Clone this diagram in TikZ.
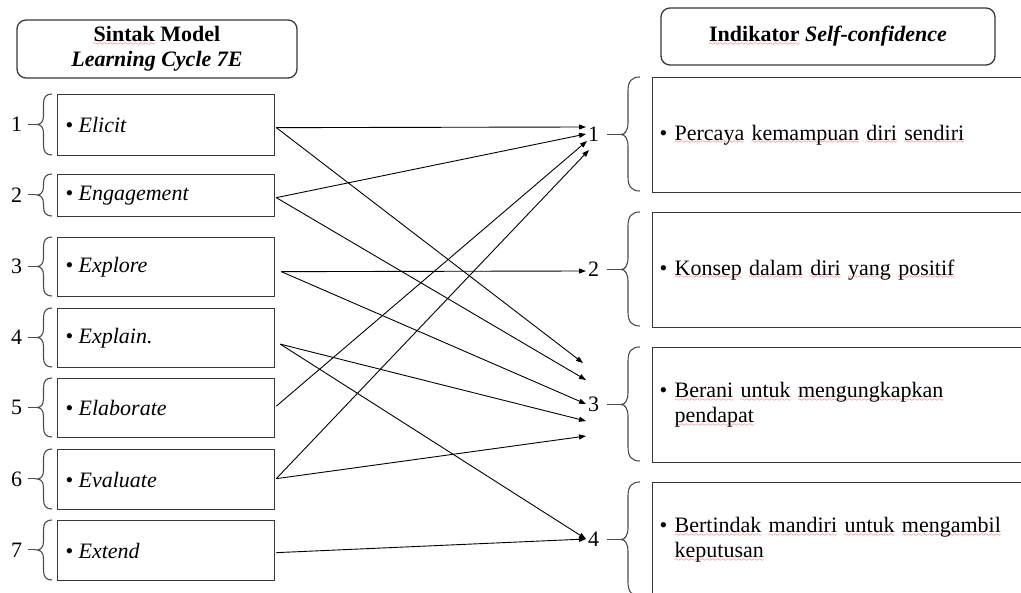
\documentclass[tikz,border=0pt]{standalone}
\usepackage{fontspec}
\setmainfont{Liberation Serif}
\usetikzlibrary{arrows.meta,calc}

% red wavy underline used under the Indonesian words
\font\wavyfont=lasy6
\newcommand\sq[1]{\setbox0\hbox{#1}%
  \rlap{\color{red}\lower3.5pt\hbox to\wd0{\xleaders\hbox{\wavyfont\char58}\hfil}}\box0\relax}
% bullet items
\newcommand\litem[1]{\makebox[13pt][l]{\textbullet}\textit{#1}}
\newcommand\ritem[1]{\makebox[15pt][l]{\textbullet}\begin{tabular}[t]{@{}l@{}}#1\end{tabular}}

\begin{document}
\begin{tikzpicture}[x=1pt,y=-1pt,
  every node/.style={font=\fontsize{22}{25}\selectfont},
  frame/.style={draw=black!78, line width=1.3pt},
  titlebox/.style={frame, rounded corners=9pt, align=center, inner sep=0pt},
  lbox/.style={frame, anchor=north west, minimum width=217pt, text width=201pt,
    inner xsep=8pt, inner ysep=0pt, align=left},
  rbox/.style={frame, anchor=north west, minimum width=400pt, text width=386pt,
    inner xsep=7pt, inner ysep=0pt, align=left, minimum height=115pt},
  num/.style={inner sep=0pt},
  brace/.style={draw=black!70, line width=1.1pt},
  tick/.style={draw=black!70, line width=1pt},
  link/.style={draw=black, line width=0.9pt, -{Triangle[length=7pt,width=5pt]}}
]
\useasboundingbox (0,0) rectangle (1021,593);
\clip (0,0) rectangle (1021,593);

% titles
\node[titlebox, minimum width=280pt, minimum height=58pt] (ltitle) at (157,49)
  {\textbf{\sq{Sintak} Model}\\\textbf{\textit{Learning Cycle 7E}}};
\node[titlebox, minimum width=334pt, minimum height=57pt] (rtitle) at (828,36.5)
  {\textbf{\sq{Indikator}} \textbf{\textit{Self-confidence}}};

% steps of the learning cycle
\node[lbox, minimum height=61pt] (L1) at (57,94)  {\litem{Elicit}};
\node[lbox, minimum height=42pt] (L2) at (57,174) {\litem{Engagement}};
\node[lbox, minimum height=59pt] (L3) at (57,237) {\litem{Explore}};
\node[lbox, minimum height=59pt] (L4) at (57,308) {\litem{Explain.}};
\node[lbox, minimum height=59pt] (L5) at (57,378) {\litem{Elaborate}};
\node[lbox, minimum height=60pt] (L6) at (57,449) {\litem{Evaluate}};
\node[lbox, minimum height=60pt] (L7) at (57,520) {\litem{Extend}};

\foreach \i/\t/\b in {1/94/155, 2/174/216, 3/237/296, 4/308/367, 5/378/437, 6/449/509, 7/520/580} {
  \pgfmathsetmacro\m{(\t+\b)/2}
  \node[num] (m\i) at (16.5,\m) {\i};
  \coordinate (lb\i) at (37,\m);
  \draw[brace] (52,\t) .. controls (46,\t) and (43.5,\t+3) .. (43.5,\t+10) -- (43.5,\m-9)
    .. controls (43.5,\m-3) and (41,\m) .. (lb\i)
    .. controls (41,\m) and (43.5,\m+3) .. (43.5,\m+9)
    -- (43.5,\b-10) .. controls (43.5,\b-3) and (46,\b) .. (52,\b);
  \draw[tick] ([xshift=6pt]m\i.east) -- ([xshift=-1pt]lb\i);
}

% self-confidence indicators
\node[rbox] (R1) at (652,77)  {\ritem{\sq{Percaya} \sq{kemampuan} \sq{diri} \sq{sendiri}}};
\node[rbox] (R2) at (652,212) {\ritem{\sq{Konsep} \sq{dalam} \sq{diri} \sq{yang} \sq{positif}}};
\node[rbox] (R3) at (652,347) {\ritem{\sq{Berani} \sq{untuk} \sq{mengungkapkan}\\\sq{pendapat}}};
\node[rbox] (R4) at (652,482) {\ritem{\sq{Bertindak} \sq{mandiri} \sq{untuk} \sq{mengambil}\\\sq{keputusan}}};

\foreach \i/\t in {1/77, 2/212, 3/347, 4/482} {
  \pgfmathsetmacro\b{\t+114}
  \pgfmathsetmacro\m{\t+57.5}
  \node[num] (n\i) at (593.5,\m) {\i};
  \coordinate (rb\i) at (621,\m);
  \draw[brace] (640,\t) .. controls (632,\t) and (628,\t+4) .. (628,\t+14) -- (628,\m-12)
    .. controls (628,\m-4) and (625,\m) .. (rb\i)
    .. controls (625,\m) and (628,\m+4) .. (628,\m+12)
    -- (628,\b-14) .. controls (628,\b-4) and (632,\b) .. (640,\b);
  \draw[tick] ([xshift=8pt]n\i.east) -- ([xshift=-1pt]rb\i);
}

% arrow tips beside the indicator numbers
\coordinate (t1a) at (586,127);
\coordinate (t1b) at (586,134);
\coordinate (t1c) at (587,141);
\coordinate (t1d) at (589,150);
\coordinate (t2)  at (586,271);
\coordinate (t3a) at (583,363);
\coordinate (t3b) at (586,380);
\coordinate (t3c) at (586,404);
\coordinate (t3d) at (586,421);
\coordinate (t3e) at (586,436);
\coordinate (t4)  at (586,539);

% links between steps and indicators
\draw[link] ($(L1.east)+(1,2.5)$) -- (t1a);
\draw[link] ($(L1.east)+(1,2.5)$) -- (t3a);
\draw[link] ($(L2.east)+(1,2)$) -- (t1b);
\draw[link] ($(L2.east)+(1,2)$) -- (t3b);
\draw[link] ($(L3.east)+(6,4.5)$) -- (t2);
\draw[link] ($(L3.east)+(6,4.5)$) -- (t3c);
\draw[link] ($(L4.east)+(5,6)$) -- (t3d);
\draw[link] ($(L4.east)+(5,6)$) -- (t4);
\draw[link] ($(L5.east)+(1,-2)$) -- (t1c);
\draw[link] ($(L6.east)+(1,-1)$) -- (t1d);
\draw[link] ($(L6.east)+(1,-1)$) -- (t3e);
\draw[link] ($(L7.east)+(1,2)$) -- (t4);
\end{tikzpicture}
\end{document}
